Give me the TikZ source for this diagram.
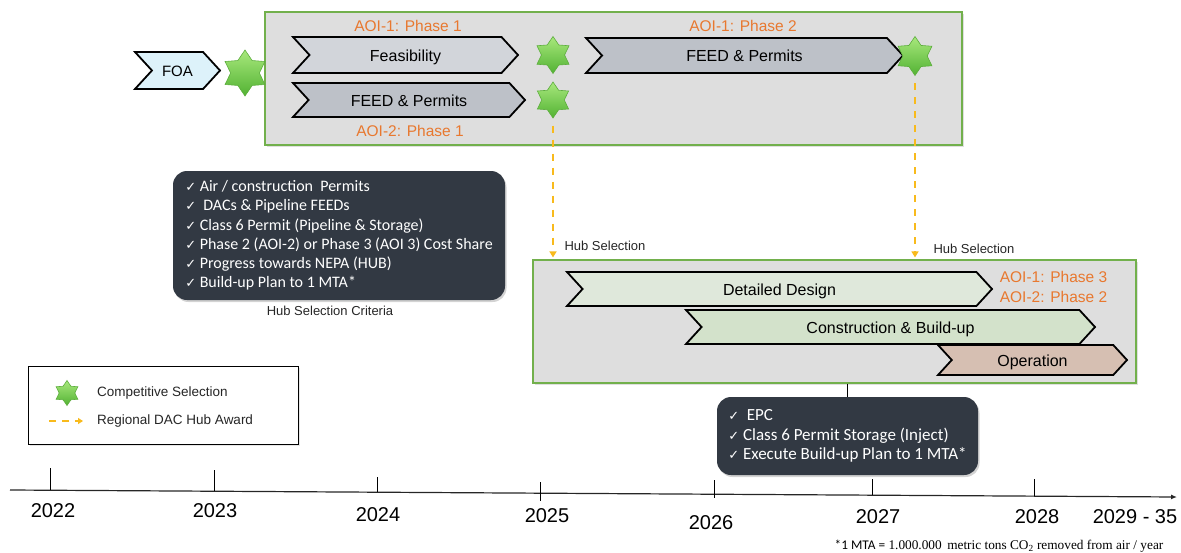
\documentclass[tikz,border=0pt]{standalone}
\usepackage{fontspec}
\setmainfont{Liberation Sans}
\newfontfamily\boxfont{Carlito}
\newfontfamily\symfont{DejaVu Sans}
\newfontfamily\notefont{Liberation Serif}
\usetikzlibrary{shapes.symbols,shapes.geometric,positioning,arrows.meta,shadows}

\definecolor{panelgray}{HTML}{DEDEDE}
\definecolor{panelgreen}{HTML}{72B04C}
\definecolor{foablue}{HTML}{DDF2FA}
\definecolor{feasgray}{HTML}{D2D5DA}
\definecolor{feedgray}{HTML}{BDC1C8}
\definecolor{designgreen}{HTML}{DFE8DB}
\definecolor{buildgreen}{HTML}{D3E2CB}
\definecolor{opertan}{HTML}{D6BFB2}
\definecolor{aoiorange}{HTML}{E8782F}
\definecolor{hubyellow}{HTML}{F8BA1C}
\definecolor{darkbox}{HTML}{323943}
\definecolor{starlight}{HTML}{A8E87C}
\definecolor{stardark}{HTML}{52B233}
\definecolor{staredge}{HTML}{5DAE3D}

\newcommand{\okmark}{{\symfont\fontsize{13}{13}\selectfont ✓}}

\tikzset{
  panel/.style={draw=panelgreen, line width=1.2pt, fill=panelgray,
    drop shadow={opacity=0.25, shadow xshift=1.5pt, shadow yshift=-1.5pt}},
  phase/.style={signal, signal from=west, signal to=east, signal pointer angle=95,
    draw=black, line width=1.8pt, inner sep=0pt, text height=12pt, text depth=0pt,
    font=\fontsize{16}{18}\selectfont},
  award/.style={star, star points=6, star point ratio=1.6, inner sep=0pt,
    top color=starlight, bottom color=stardark, draw=staredge, line width=0.6pt},
  aoi/.style={text=aoiorange, inner sep=0pt, font=\fontsize{15.5}{17}\selectfont},
  hub/.style={draw=hubyellow, line width=2.4pt, dash pattern=on 7pt off 7pt,
    -{Triangle[length=6pt,width=7pt]}},
  checklist/.style={fill=darkbox, rounded corners=14pt, text=white, align=left,
    drop shadow={opacity=0.35, shadow xshift=1.5pt, shadow yshift=-2pt}},
  caption/.style={inner sep=0pt, text=black!85, font=\fontsize{13}{15}\selectfont},
  year/.style={inner sep=0pt, font=\fontsize{20}{22}\selectfont}
}

\begin{document}
\begin{tikzpicture}[x=1pt,y=-1pt]
  \useasboundingbox (0,0) rectangle (1181,552);

  % upper stage
  \node[panel, minimum width=697, minimum height=133] (upper) at (613.5,78.5) {};
  \node[phase, fill=foablue, minimum width=85, minimum height=37, font=\fontsize{15}{17}\selectfont] (foa) at (177.5,70.5) {FOA};
  \node[award, minimum size=46] (s0) at (245,73) {};
  \node[phase, fill=feasgray, minimum width=225, minimum height=36] (feas) at (405.5,55) {Feasibility};
  \node[phase, fill=feedgray, minimum width=232, minimum height=34] (feedb) at (409,100) {FEED \& Permits};
  \node[phase, fill=feedgray, minimum width=317, minimum height=35] (feeda) at (744.5,55.5) {FEED \& Permits};
  \node[award, minimum size=37] (s1) at (553,55) {};
  \node[award, minimum size=36] (s2) at (553,100) {};
  \node[award, minimum size=39] (s3) at (915,56) {};

  \node[aoi] (aoi11) at (408,26) {AOI-1: Phase 1};
  \node[aoi] (aoi12) at (743,26) {AOI-1: Phase 2};
  \node[aoi] (aoi21) at (410,131) {AOI-2: Phase 1};

  % lower stage
  \node[panel, minimum width=603, minimum height=123] (lower) at (834.5,321.5) {};
  \node[phase, fill=designgreen, minimum width=425, minimum height=34] (design) at (779.5,289) {Detailed Design};
  \node[phase, fill=buildgreen, minimum width=409, minimum height=34] (build) at (890.5,327) {Construction \& Build-up};
  \node[phase, fill=opertan, minimum width=189, minimum height=30] (oper) at (1032.5,360) {Operation};
  \node[aoi] (aoi13) at (1053.5,277) {AOI-1: Phase 3};
  \node[aoi] (aoi22) at (1053.5,297) {AOI-2: Phase 2};

  % hub awards
  \draw[hub, shorten <=7pt, shorten >=2pt] (s2.south) -- (s2.south |- lower.north);
  \draw[hub, shorten <=7pt, shorten >=2pt] (s3.south) -- (s3.south |- lower.north);
  \node[caption] (hub1) at (605,246) {Hub Selection};
  \node[caption] (hub2) at (974,249) {Hub Selection};

  % criteria
  \node[checklist, minimum width=332, minimum height=129, font=\boxfont\fontsize{16}{19.2}\selectfont] (crit) at (339,235.5) {%
    \okmark\ Air / construction\ \ Permits\\
    \okmark\ \ DACs \& Pipeline\ FEEDs\\
    \okmark\ Class 6 Permit (Pipeline \& Storage)\\
    \okmark\ Phase 2 (AOI-2) or Phase 3 (AOI 3) Cost Share\\
    \okmark\ Progress towards NEPA (HUB)\\
    \okmark\ Build-up Plan to 1 MTA*};
  \node[caption] (critlabel) at (330,311) {Hub Selection Criteria};

  \node[checklist, minimum width=261, minimum height=78, font=\boxfont\fontsize{17}{19.5}\selectfont] (epc) at (847.5,436) {%
    \okmark\ \ EPC\\
    \okmark\ Class 6 Permit Storage (Inject)\\
    \okmark\ Execute Build-up Plan to 1 MTA*};
  \draw[line width=1.6pt] (lower.south -| epc.north) -- (epc.north);

  % legend
  \node[draw, line width=0.8pt, fill=white, minimum width=270, minimum height=78,
    drop shadow={opacity=0.2, shadow xshift=1.5pt, shadow yshift=-1.5pt}] (legend) at (163,405) {};
  \node[award, minimum size=25] (ls) at (67,393) {};
  \node[caption, anchor=west, font=\fontsize{13.5}{15}\selectfont] (lt1) at (97,393) {Competitive Selection};
  \coordinate (la) at (49,421);
  \coordinate (lb) at (83,421);
  \draw[hub, line width=2pt, dash pattern=on 7pt off 6pt, -{Triangle[length=5pt,width=6pt]}] (la) -- (lb);
  \node[caption, anchor=west, font=\fontsize{13.5}{15}\selectfont] (lt2) at (97,421) {Regional DAC Hub Award};

  % timeline
  \coordinate (t0) at (10,490);
  \coordinate (t1) at (1177,497);
  \draw[line width=1.2pt, black!85, -{Latex[length=6pt,width=5pt]}] (t0) -- (t1);
  \foreach \yr/\x/\up/\dn/\lx/\dy [evaluate=\x as \ya using 490+0.006*(\x-10)] in
    {2022/50/22/0/53/20, 2023/214/21/0/215/19, 2024/377/15/0/378/22,
     2025/540/11/8/547/22.5, 2026/714/14/4/711/28, 2027/872/16/0/878/21.5,
     2028/1034/17/0/1037/20} {
    \draw[line width=0.9pt] (\x,\ya-\up) -- (\x,\ya+\dn);
    \node[year] (y\yr) at (\lx,\ya+\dy) {\yr};
  }
  \node[year] (y2029) at (1135,517) {2029 - 35};

  \node[inner sep=0pt, font=\notefont\fontsize{13.3}{15}\selectfont] (note) at (999,546)
    {{\boxfont *1 MTA =} 1.000.000\, metric tons CO\textsubscript{2} removed from air / year};
\end{tikzpicture}
\end{document}
